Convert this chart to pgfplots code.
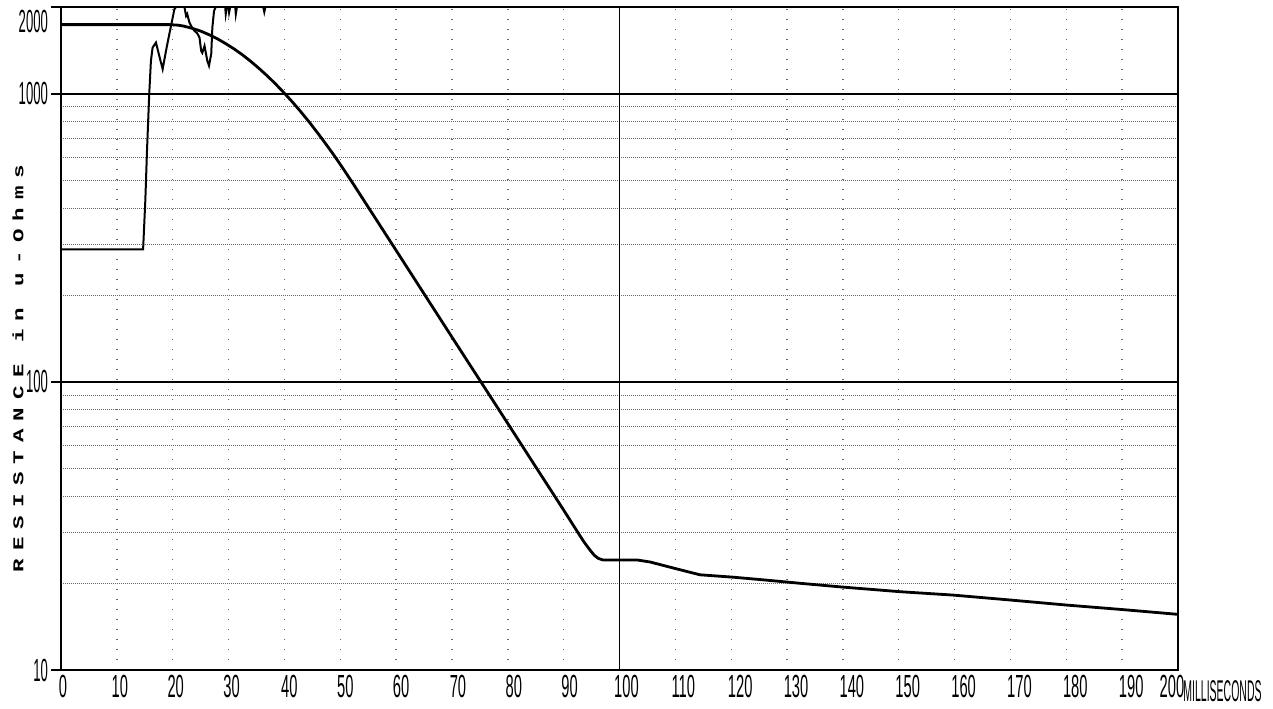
\documentclass[border=0pt]{standalone}
\usepackage{fontspec}
\setmainfont{Liberation Sans}
\setmonofont{Liberation Mono}
\usepackage{pgfplots}
\pgfplotsset{compat=1.18}
\newcommand\xl[2]{\hspace*{#1pt}\scalebox{0.46}[1]{\fontsize{16}{16}\selectfont #2}}
\newcommand\yl[1]{\scalebox{0.41}[1]{\fontsize{16}{16}\selectfont #1}}
\begin{document}
\begin{tikzpicture}
\begin{axis}[name=ax, scale only axis, width=558.5pt, height=331.5pt,
  xmin=0, xmax=200, ymin=10, ymax=2000, ymode=log,
  axis line style={line width=1pt, black},
  /pgf/number format/assume math mode=true,
  xtick={0,10,...,200},
  xticklabels={\xl{2}{0},\xl{3}{10},\xl{3}{20},\xl{3}{30},\xl{5}{40},\xl{5}{50},\xl{5}{60},\xl{6}{70},\xl{6}{80},\xl{6}{90},\xl{7}{100},\xl{8}{110},\xl{9}{120},\xl{9}{130},\xl{9}{140},\xl{9}{150},\xl{9}{160},\xl{9}{170},\xl{9}{180},\xl{9}{190},\xl{-6}{200}},
  xticklabel style={inner sep=2.5pt},
  ytick={10,100,1000,2000},
  minor ytick={20,30,40,50,60,70,80,90,200,300,400,500,600,700,800,900},
  yticklabels={\yl{10},\yl{100},\yl{1000},\raisebox{-7pt}[\height][\depth]{\yl{2000}}},
  yticklabel style={xshift=-3pt},
  tick align=inside,
  major tick length=5pt, minor tick length=0pt,
  xtick style={draw=none},
  ytick style={draw=black, line width=1pt, xshift=-5pt},
  ytick pos=left,
  xmajorgrids=true, ymajorgrids=false, yminorgrids=true,
  major grid style={black!60, line width=0.7pt, dash pattern=on 0.7pt off 4.3pt},
  minor grid style={black!60, line width=0.5pt, dash pattern=on 0.5pt off 0.5pt},
  extra y ticks={100,1000},
  extra y tick labels={},
  extra y tick style={grid=major, major grid style={solid, black, line width=1pt}},
  extra x ticks={100},
  extra x tick labels={},
  extra x tick style={grid=major, major grid style={solid, black, line width=0.6pt}},
  xlabel={\scalebox{0.35}[1]{\fontsize{15}{15}\selectfont MILLISECONDS}},
  xlabel style={at={(rel axis cs:1,0)}, anchor=north west, inner sep=0pt, xshift=2.5pt, yshift=-5pt},
  ylabel={\scalebox{1.5}[1]{\ttfamily\bfseries\fontsize{7.5}{7.5}\selectfont\addfontfeature{LetterSpace=36}RESISTANCE in u-Ohms}},
  ylabel style={at={(rel axis cs:0,0.455)}, anchor=center, yshift=21.5pt},
]
\addplot[black, line width=1pt] coordinates {
(0,288)(14.7,288)(15.1,427)(15.4,635)(15.8,1000)(16.1,1300)(16.4,1446)(17.0,1505)(17.6,1353)(18.2,1217)(18.8,1408)(19.4,1613)(19.7,1718)(20.3,1964)(20.6,2000)(22.1,2000)(22.4,1862)(22.6,1892)(23.0,1765)(23.3,1718)(23.9,1652)(24.4,1620)(24.8,1566)(25.1,1408)(25.3,1386)(25.7,1466)(26.2,1300)(26.5,1250)(26.9,1375)(27.1,1696)(27.4,1937)(27.7,2000)(29.4,2000)(29.5,1890)(29.7,2000)(30.0,2000)(30.1,1915)(30.3,2000)(31.2,2000)(31.3,1890)(31.5,2000)(36.2,2000)(36.4,1920)(36.6,2000)(200,2000)
};
\addplot[black, line width=1.4pt] coordinates {
(0,1737)(19.5,1737)(21,1729)(22,1716)(23.5,1686)(25,1650)(26.5,1603)(28,1551)(29.5,1492)(31,1430)(32.5,1364)(34,1294)(35.5,1222)(37,1150)(38.5,1077)(40,1004)(41.5,933)(43,863)(44.5,795)(46,729)(47.5,666)(49,607)(50.5,550)(52.1,494)(60,286)(70,143)(80,71.7)(85,50.7)(90,35.9)(92.6,29.9)(93.6,27.9)(94.7,26.1)(95.5,25.0)(96.2,24.4)(97,24.1)(103.1,24.1)(105.5,23.7)(109.6,22.6)(114.4,21.4)(120.3,21.0)(126.4,20.5)(132.3,20.0)(140,19.4)(150.2,18.7)(159.7,18.2)(169.9,17.5)(180.1,16.8)(190.2,16.2)(200,15.6)
};
\end{axis}
\pgfresetboundingbox
\useasboundingbox ([xshift=-30.5pt,yshift=-19pt]ax.south west) rectangle ([xshift=47.5pt,yshift=3.5pt]ax.north east);
\end{tikzpicture}
\end{document}
